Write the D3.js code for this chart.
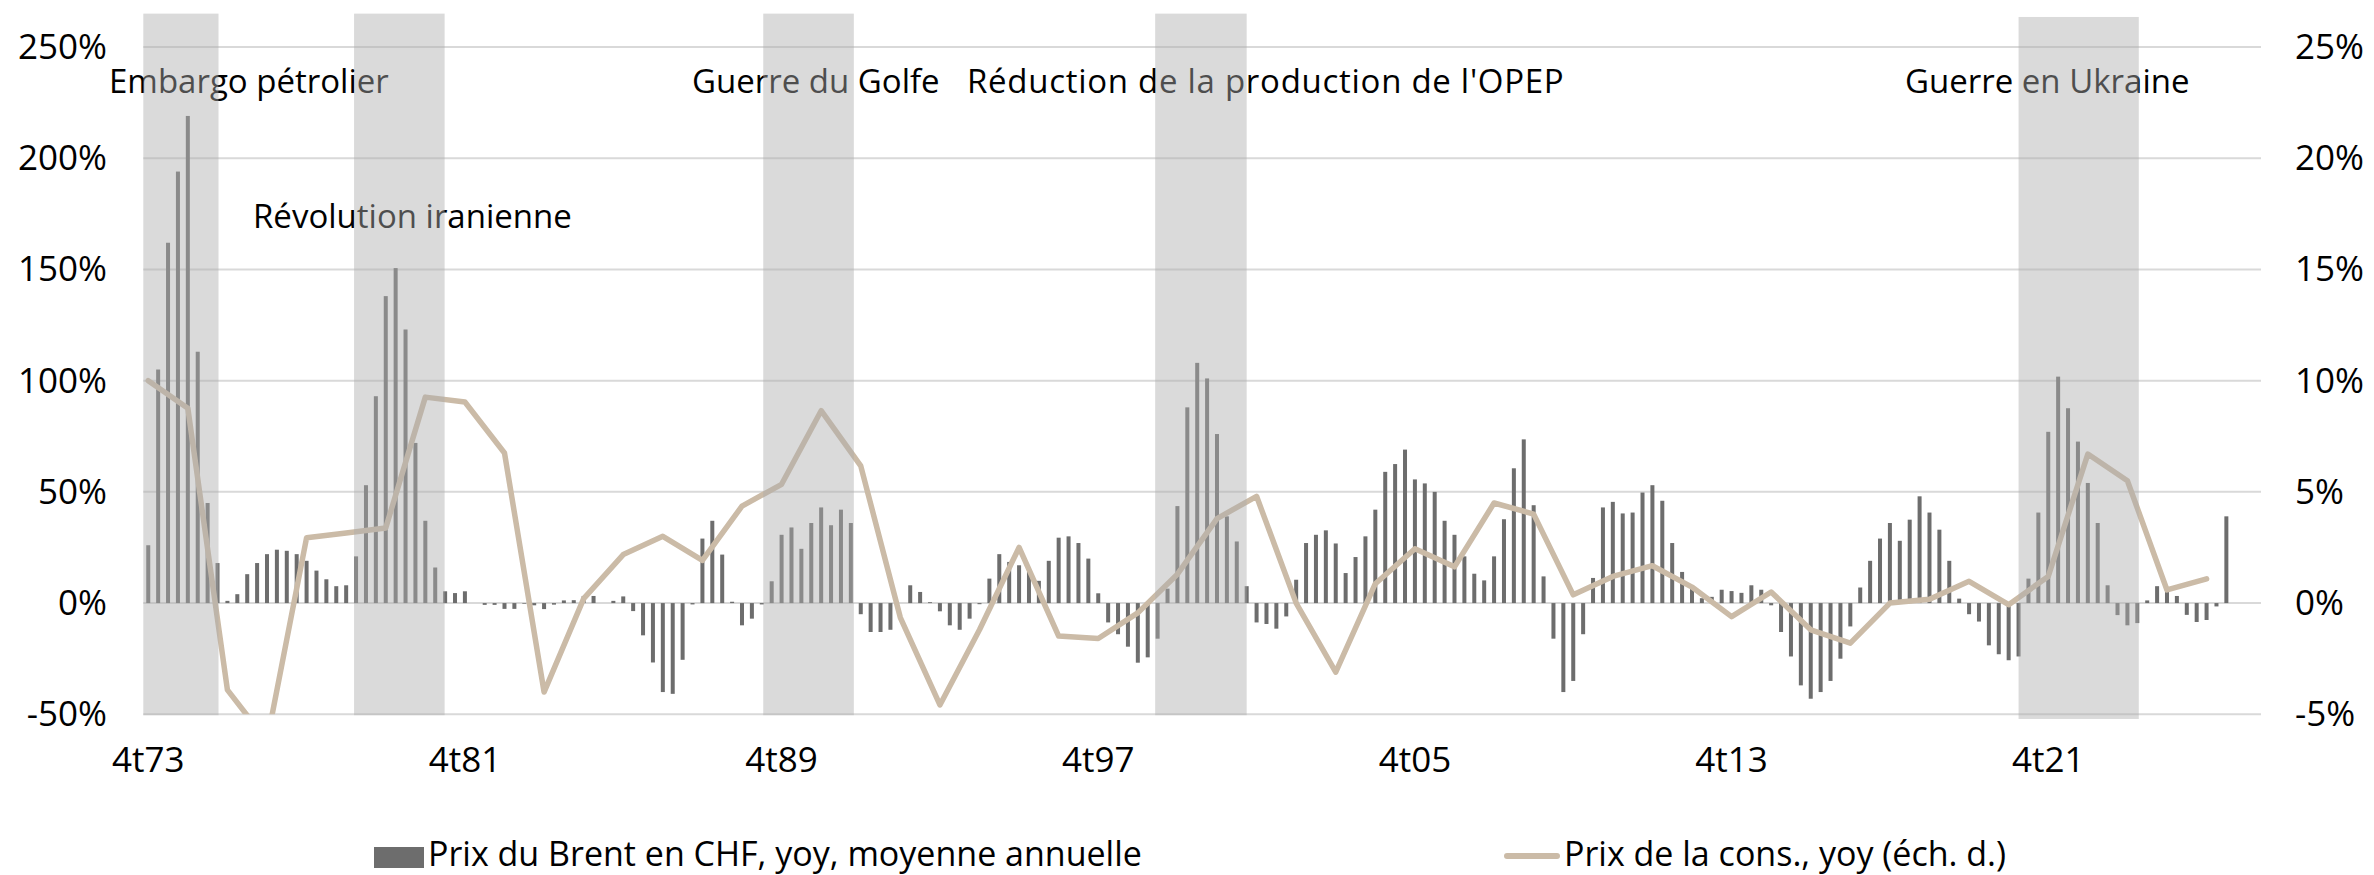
<!DOCTYPE html>
<html><head><meta charset="utf-8">
<script src="https://cdn.jsdelivr.net/npm/d3@7"></script>
<style>
html,body{margin:0;padding:0;background:#fff;}
svg{display:block;font-family:"Open Sans",sans-serif;}
</style></head><body>
<svg id="chart" width="2374" height="875"></svg>
<script>
// ---------- DATA ----------
// Quarterly categories, 4t73 onwards
const firstYear = 1973, firstQuarter = 4, nQuarters = 214;
const categories = d3.range(nQuarters).map(i => {
  const k = firstQuarter - 1 + i;
  return (k % 4 + 1) + "t" + String((firstYear + Math.floor(k / 4)) % 100).padStart(2, "0");
});

// Prix du Brent en CHF, yoy, moyenne annuelle (%), quarterly from 4t73
const brentValues = [
  26,105,162,194,219,113,45,18,1,4,13,18,22,24,23.5,22,19,14.6,10.7,7.6,
  8,21,53,93,138,150.6,123,72,37,16,5.3,4.5,5.3,0,-0.8,-0.8,-2.6,-2.6,-0.3,-1,
  -2.7,-0.7,1.2,1.3,3.2,3.2,0,1,3,-3.6,-14.5,-26.7,-40,-40.8,-25.5,-0.6,29,37,21.8,0.6,
  -10,-7,-0.6,9.8,30.7,34,24.4,36,43,35,42,36,-5,-13,-13,-12,0,8,5,0.4,
  -3.7,-10,-12,-7,-0.5,11,22,18.5,17,14,10,19,29.4,30,27,20,4.4,-8.7,-14,-19.6,
  -26.8,-24.4,-16,6.5,43.6,88,108,101,76,39,27.7,7.6,-8.7,-9.4,-11.5,-6,10.5,27,30.7,32.7,
  26.8,13.5,20.7,30,42,59,62.5,69,55.6,53.8,50,37,30.7,21,13.2,10.2,21,37.7,60.6,73.6,
  44,12,-16,-40,-35,-14,11.3,43,45.5,40.3,40.7,49.7,53,46,27,14,7.6,2.2,2.8,6,
  5.4,4.6,8,6,-1,-13,-24,-37,-43,-40,-35,-25,-10.5,7,19,29,36,28,37.5,48,
  40.7,33,19,2,-5,-8.3,-19,-23,-25.7,-24,11,40.7,77,101.8,87.6,72.6,54,36,8,-5.4,
  -10,-9,1.2,7.6,5,3.2,-5.3,-8.5,-7.6,-1.5,39
];

// Prix de la consommation, yoy (%), annual points at 4t of each year (right axis)
const cpiCategories = d3.range(53).map(i => "4t" + String((73 + i) % 100).padStart(2, "0"));
const cpiValues = [
  10.0,8.76,-3.9,-6.2,2.94,3.15,3.38,9.26,9.04,6.75,-4.0,0.2,2.18,3.0,1.92,4.36,5.34,8.65,6.17,-0.65,
  -4.58,-1.2,2.5,-1.48,-1.59,-0.44,1.3,3.8,4.8,0.0,-3.1,0.87,2.44,1.63,4.5,4.0,0.37,1.2,1.68,0.72,
  -0.61,0.5,-1.2,-1.8,0.0,0.17,0.98,-0.07,1.2,6.7,5.5,0.59,1.09
];

const tickLabels = ["4t73","4t81","4t89","4t97","4t05","4t13","4t21"];
const leftTicks = [-50,0,50,100,150,200,250];
const rightTicks = [-5,0,5,10,15,20,25];

// Shaded episodes (start/end in quarters from the left edge of 4t73)
const shadeStart = [0, 21.3, 62.65, 102.25, 189.5];
const shadeEnd   = [7.6, 30.45, 71.8, 111.5, 201.65];
const shadeTop    = [265, 265, 265, 265, 263.5];
const shadeBottom = [-50.4, -50.4, -50.4, -50.4, -52.1];

const eventLabels = ["Embargo pétrolier","Révolution iranienne","Guerre du Golfe",
  "Réduction de la production de l'OPEP","Guerre en Ukraine"];

const legendLabels = ["Prix du Brent en CHF, yoy, moyenne annuelle","Prix de la cons., yoy (éch. d.)"];

// ---------- LAYOUT ----------
const plot = {left: 143.3, right: 2261, top: 47, bottom: 714.3};
const annotLayout = [{x:109,y:93,ls:0},{x:253,y:228,ls:0},{x:692,y:93,ls:0},{x:967,y:93,ls:0.72},{x:1905,y:93,ls:0}];
const colors = {bar:"#6d6d6d", line:"#cbbba7", grid:"#d9d9d9", shade:"rgb(172,172,172)"};

const svg = d3.select("#chart");
svg.append("rect").attr("width",2374).attr("height",875).attr("fill","#fff");

const xs = d3.scaleBand().domain(categories).range([plot.left, plot.right]);
const xc = c => xs(c) + xs.bandwidth()/2;
const yL = d3.scaleLinear().domain([-50,250]).range([plot.bottom, plot.top]);
const yR = d3.scaleLinear().domain([-5,25]).range([plot.bottom, plot.top]);
const xu = d3.scaleLinear().domain([0, nQuarters]).range([plot.left, plot.right]);

// gridlines
svg.append("g").selectAll("line").data(leftTicks).join("line")
  .attr("x1", plot.left).attr("x2", plot.right)
  .attr("y1", d => yL(d)).attr("y2", d => yL(d))
  .attr("stroke", colors.grid).attr("stroke-width", 2);

// bars
const bw = 4;
svg.append("g").selectAll("rect").data(brentValues).join("rect")
  .attr("x", (d,i) => xc(categories[i]) - bw/2)
  .attr("width", bw)
  .attr("y", d => yL(Math.max(0,d)))
  .attr("height", d => Math.abs(yL(d) - yL(0)))
  .attr("fill", colors.bar);

// line
svg.append("clipPath").attr("id","clip").append("rect")
  .attr("x", plot.left).attr("y", plot.top - 20)
  .attr("width", plot.right - plot.left).attr("height", plot.bottom - plot.top + 20);
const line = d3.line().x((d,i) => xc(cpiCategories[i])).y(d => yR(d));
svg.append("path").datum(cpiValues)
  .attr("d", line).attr("fill","none")
  .attr("stroke", colors.line).attr("stroke-width", 5.5)
  .attr("stroke-linejoin","round").attr("stroke-linecap","round")
  .attr("clip-path","url(#clip)");

// left axis labels
svg.append("g").selectAll("text").data(leftTicks).join("text")
  .attr("x", 107).attr("y", d => yL(d)).attr("dy","0.34em")
  .attr("text-anchor","end").attr("font-size",35).attr("fill","#000")
  .text(d => d + "%");
// right axis labels
svg.append("g").selectAll("text").data(rightTicks).join("text")
  .attr("x", 2295).attr("y", d => yR(d)).attr("dy","0.34em")
  .attr("text-anchor","start").attr("font-size",35).attr("fill","#000")
  .text(d => d + "%");
// x labels
svg.append("g").selectAll("text").data(tickLabels).join("text")
  .attr("x", d => xc(d)).attr("y", 772)
  .attr("text-anchor","middle").attr("font-size",35).attr("fill","#000")
  .text(d => d);

// annotations
svg.append("g").selectAll("text").data(eventLabels).join("text")
  .attr("x", (d,i) => annotLayout[i].x).attr("y", (d,i) => annotLayout[i].y)
  .attr("letter-spacing", (d,i) => annotLayout[i].ls)
  .attr("font-size",33).attr("fill","#000")
  .text(d => d);

// shaded periods (semi-transparent, on top)
svg.append("g").selectAll("rect").data(shadeStart).join("rect")
  .attr("x", (d,i) => xu(d))
  .attr("width", (d,i) => xu(shadeEnd[i]) - xu(d))
  .attr("y", (d,i) => yL(shadeTop[i]))
  .attr("height", (d,i) => yL(shadeBottom[i]) - yL(shadeTop[i]))
  .attr("fill", colors.shade).attr("fill-opacity", 0.45);

// legend
const lg = svg.append("g");
lg.append("rect").attr("x",374).attr("y",847).attr("width",50).attr("height",21).attr("fill",colors.bar);
lg.append("text").attr("x",428).attr("y",866).attr("font-size",34).attr("fill","#000").text(legendLabels[0]);
lg.append("line").attr("x1",1507).attr("x2",1557).attr("y1",856).attr("y2",856)
  .attr("stroke",colors.line).attr("stroke-width",6).attr("stroke-linecap","round");
lg.append("text").attr("x",1564).attr("y",866).attr("font-size",34).attr("fill","#000").text(legendLabels[1]);
</script>
</body></html>
